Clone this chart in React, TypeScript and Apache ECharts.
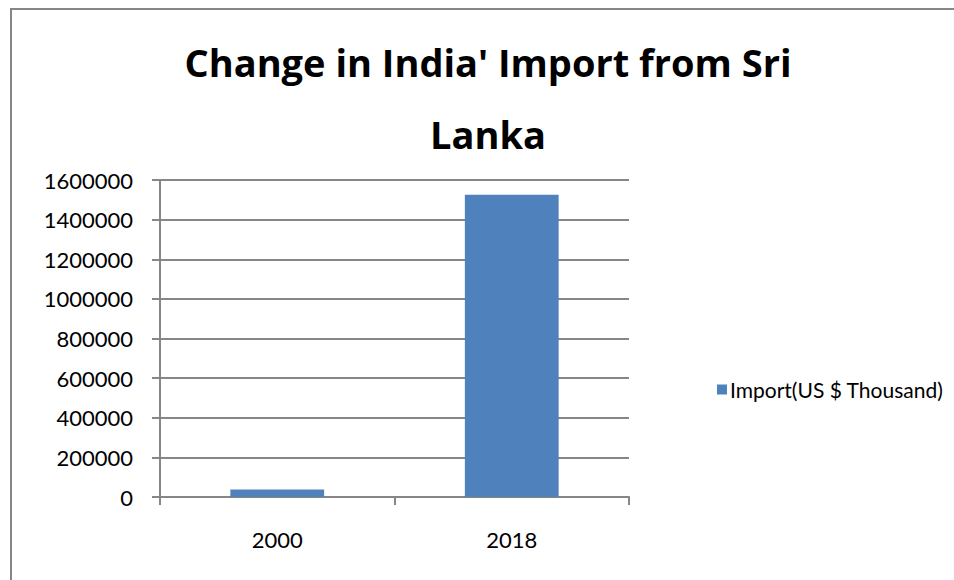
import React, { useEffect, useRef } from "react";
import * as echarts from "echarts";

const categories = ["2000", "2018"];
const importValues = [38000, 1525000];
const seriesName = "Import(US $ Thousand)";
const titleLine1 = "Change in India' Import from Sri";
const titleLine2 = "Lanka";

export default function App() {
  const ref = useRef<HTMLDivElement>(null);
  useEffect(() => {
    if (!ref.current) return;
    const chart = echarts.init(ref.current, null, { renderer: "svg" });
    const font = "Lato, 'Open Sans', sans-serif";
    const titleFont = "'Open Sans', Lato, sans-serif";
    chart.setOption({
      animation: false,
      backgroundColor: "#ffffff",
      textStyle: { fontFamily: font },
      graphic: [
        {
          type: "rect",
          shape: { x: 11, y: 9, width: 980, height: 620 },
          style: { fill: "none", stroke: "#868686", lineWidth: 2 },
          silent: true,
        },
        {
          type: "text",
          x: 488,
          y: 62,
          style: {
            text: titleLine1,
            fontFamily: titleFont,
            fontWeight: "bold",
            fontSize: 38,
            fill: "#000",
            align: "center",
            verticalAlign: "middle",
          },
        },
        {
          type: "text",
          x: 488,
          y: 134,
          style: {
            text: titleLine2,
            fontFamily: titleFont,
            fontWeight: "bold",
            fontSize: 38,
            fill: "#000",
            align: "center",
            verticalAlign: "middle",
          },
        },
      ],
      legend: {
        data: [seriesName],
        left: 712,
        top: 374,
        itemWidth: 10,
        itemHeight: 10,
        itemGap: 5,
        icon: "rect",
        textStyle: { fontFamily: font, fontSize: 21, color: "#000", padding: [0, 0, 0, -2] },
      },
      grid: { left: 160, right: 325, top: 180, bottom: 83, containLabel: false },
      xAxis: {
        type: "category",
        data: categories,
        boundaryGap: true,
        axisLine: { lineStyle: { color: "#868686", width: 2 } },
        axisTick: { show: true, length: 8, alignWithLabel: false, lineStyle: { color: "#868686", width: 2 } },
        axisLabel: { fontFamily: font, fontSize: 22, color: "#000", margin: 31 },
      },
      yAxis: {
        type: "value",
        min: 0,
        max: 1600000,
        interval: 200000,
        axisLine: { show: true, lineStyle: { color: "#868686", width: 2 } },
        axisTick: { show: true, length: 8, lineStyle: { color: "#868686", width: 2 } },
        splitLine: { lineStyle: { color: "#868686", width: 2 } },
        axisLabel: {
          fontFamily: font,
          fontSize: 22,
          color: "#000",
          margin: 27,
          formatter: (v: number) => String(v),
        },
      },
      series: [
        {
          name: seriesName,
          type: "bar",
          data: importValues,
          barWidth: "40%",
          itemStyle: { color: "#4F81BD" },
        },
      ],
    });
    return () => chart.dispose();
  }, []);
  return (
    <div
      ref={ref}
      style={{ position: "absolute", left: 0, top: 0, width: 954, height: 580 }}
    />
  );
}
